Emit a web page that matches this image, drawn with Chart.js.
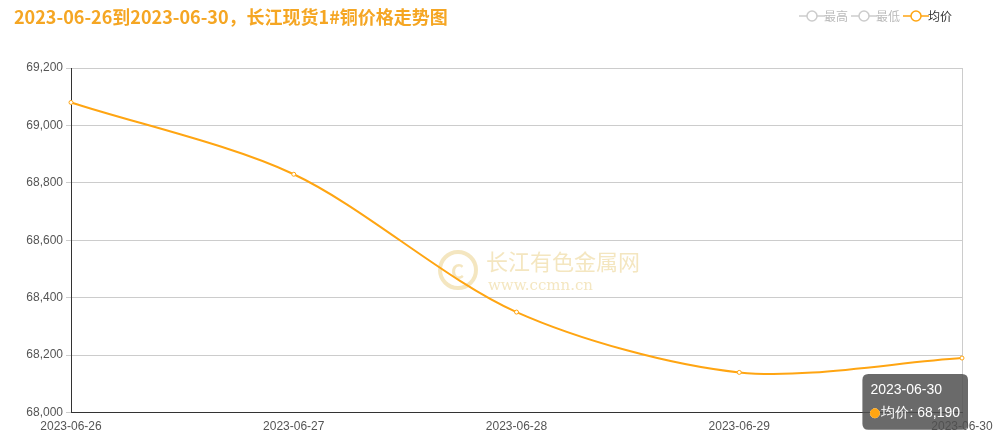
<!DOCTYPE html>
<html>
<head>
<meta charset="utf-8">
<script src="https://cdn.jsdelivr.net/npm/chart.js@4"></script>
<style>
  body { margin: 0; background: #fff; font-family: "Noto Sans CJK SC", "Noto Sans", sans-serif; }
  #wrap { position: relative; width: 1003px; height: 436px; }
  #title { position: absolute; left: 14px; top: 3px; color: #f5a623; font-size: 18px; font-weight: bold; }
</style>
</head>
<body>
<div id="wrap">
  <div id="title">2023-06-26到2023-06-30，长江现货1#铜价格走势图</div>
  <canvas id="priceChart" width="1003" height="436"></canvas>
</div>
<script>
const dates = ["2023-06-26", "2023-06-27", "2023-06-28", "2023-06-29", "2023-06-30"];
const avgPrice = [69080, 68830, 68350, 68140, 68190];
const seriesNames = ["最高", "最低", "均价"];
const orange = "#ffa512";

function legendIcon(color) {
    const cv = document.createElement("canvas");
    cv.width = 26;
    cv.height = 14;
    const c = cv.getContext("2d");
    c.strokeStyle = color;
    c.lineWidth = 1.5;
    c.beginPath();
    c.moveTo(0, 7);
    c.lineTo(26, 7);
    c.stroke();
    c.fillStyle = "#fff";
    c.beginPath();
    c.arc(13, 7, 5, 0, Math.PI * 2);
    c.fill();
    c.stroke();
    return cv;
}

const watermark = {
    id: "watermark",
    beforeDatasetsDraw(chart) {
        const c = chart.ctx;
        c.save();
        c.globalAlpha = 0.35;
        c.strokeStyle = "#e0b84a";
        c.lineWidth = 4;
        c.beginPath();
        c.arc(458, 270, 18, 0, Math.PI * 2);
        c.stroke();
        c.fillStyle = "#e0b84a";
        c.font = "bold 20px 'Noto Sans CJK SC'";
        c.textBaseline = "middle";
        c.fillText("C", 451, 271);
        c.font = "22px 'Noto Sans CJK SC'";
        c.fillText("长江有色金属网", 486, 262);
        c.font = "15px 'DejaVu Serif'";
        c.fillText("www.ccmn.cn", 488, 286);
        c.restore();
    },
};

const legendGap = {
    id: "legendGap",
    beforeInit(chart) {
        const fit = chart.legend.fit;
        chart.legend.fit = function () {
            fit.bind(chart.legend)();
            this.height += 36;
        };
    },
};

const chart = new Chart(document.getElementById("priceChart").getContext("2d"), {
    type: "line",
    data: {
        labels: dates,
        datasets: [
            { label: seriesNames[0], data: [], borderColor: "#ccc", backgroundColor: "#fff" },
            { label: seriesNames[1], data: [], borderColor: "#ccc", backgroundColor: "#fff" },
            {
                label: seriesNames[2],
                data: avgPrice,
                borderColor: orange,
                backgroundColor: "#fff",
                borderWidth: 2,
                tension: 0.3,
                pointRadius: 2,
                pointBorderWidth: 1,
                pointHoverRadius: 3,
            },
        ],
    },
    options: {
        responsive: false,
        animation: false,
        layout: { padding: { left: 0, right: 41, top: 0, bottom: 0 } },
        plugins: {
            legend: {
                position: "top",
                align: "end",
                onClick: null,
                labels: {
                    usePointStyle: true,
                    padding: 10,
                    font: { size: 12, family: "Noto Sans CJK SC" },
                    generateLabels(ch) {
                        return ch.data.datasets.map((ds, i) => ({
                            text: ds.label,
                            pointStyle: legendIcon(ds.borderColor),
                            fontColor: i === 2 ? "#333" : "#bbb",
                            datasetIndex: i,
                        }));
                    },
                },
            },
            tooltip: {
                backgroundColor: "rgba(80,80,80,0.85)",
                titleColor: "#fff",
                bodyColor: "#fff",
                titleFont: { size: 14, weight: "normal" },
                bodyFont: { size: 14 },
                padding: 8,
                caretSize: 0,
                caretPadding: 16,
                xAlign: "right",
                yAlign: "top",
                usePointStyle: true,
                boxWidth: 9,
                boxHeight: 9,
                callbacks: {
                    label: (item) => item.dataset.label + ": " + item.raw.toLocaleString("en-US"),
                    labelColor: () => ({ borderColor: orange, backgroundColor: orange }),
                    labelPointStyle: () => ({ pointStyle: "circle", rotation: 0 }),
                },
            },
        },
        scales: {
            x: {
                offset: false,
                grid: {
                    color: (ctx) => (ctx.index === dates.length - 1 ? "#ccc" : "rgba(0,0,0,0)"),
                    tickLength: 5,
                },
                border: { color: "#333" },
                ticks: { color: "#555", font: { size: 12 }, maxRotation: 0, padding: 2 },
            },
            y: {
                min: 68000,
                max: 69200,
                afterFit: (scale) => { scale.width = 71; },
                ticks: {
                    stepSize: 200,
                    color: "#555",
                    font: { size: 12 },
                    callback: (v) => v.toLocaleString("en-US"),
                },
                grid: { color: "#ccc", tickLength: 5 },
                border: { color: "#333" },
            },
        },
    },
    plugins: [watermark, legendGap],
});

const pt = chart.getDatasetMeta(2).data[4];
chart.tooltip.setActiveElements([{ datasetIndex: 2, index: 4 }], { x: pt.x, y: pt.y });
chart.update();
</script>
</body>
</html>
